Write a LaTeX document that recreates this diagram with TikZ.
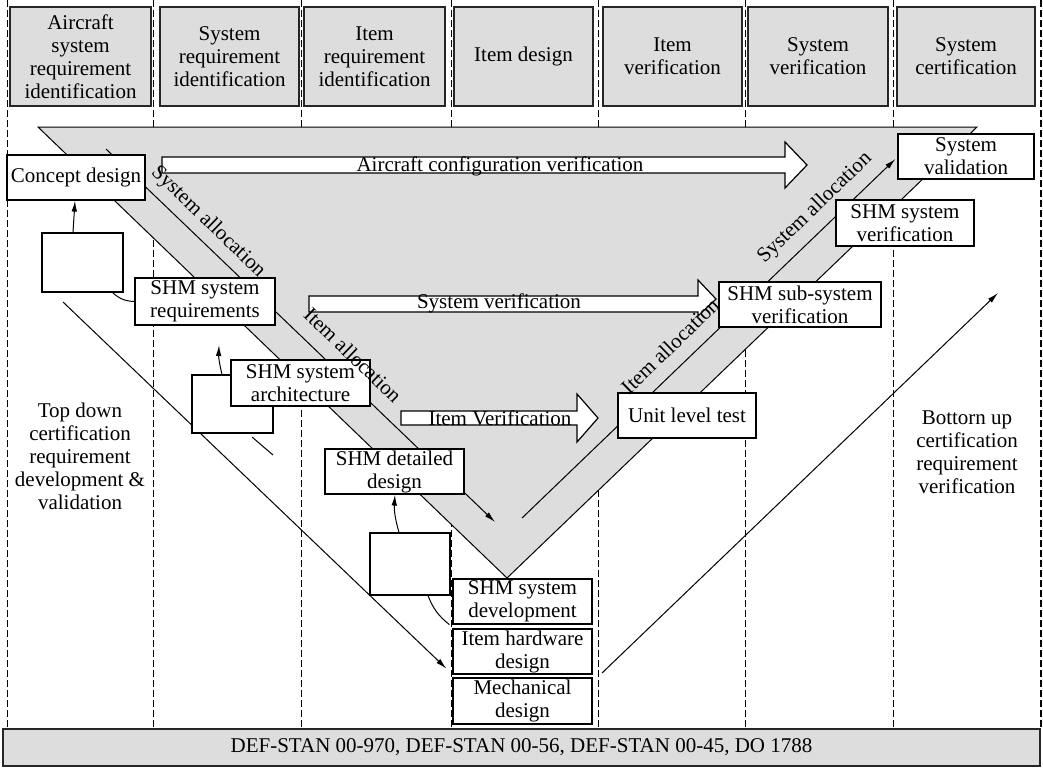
\documentclass[tikz,border=0pt]{standalone}
\usepackage{fontspec}
\setmainfont{Liberation Serif}
\usetikzlibrary{arrows.meta}
\definecolor{panel}{gray}{0.865}
\pgfdeclarelayer{bg}
\pgfdeclarelayer{wires}
\pgfsetlayers{bg,wires,main}

\begin{document}
\begin{tikzpicture}[x=1pt,y=-1pt,
  txt/.style={font=\fontsize{21}{23}\selectfont, align=center, inner sep=0pt},
  box/.style={txt, draw=black, fill=white, line width=1.2pt},
  hdr/.style={txt, draw=black!85, fill=panel, line width=1.8pt, minimum height=99pt},
  colline/.style={line width=1pt, dash pattern=on 7pt off 3pt},
  link/.style={line width=1pt},
  arr/.style={link, -{Latex[length=11pt,width=5.5pt]}},
  block/.style={draw=black, fill=white, line width=1.2pt, line join=miter},
]
\useasboundingbox (0,0) rectangle (1043,769);

% ---------- column separators and the V band ----------
\begin{pgfonlayer}{bg}
  \foreach \cx in {7,153,301,451,598,745,893}
    \draw[colline] (\cx,0) -- (\cx,728);
  \draw[colline, line width=1.6pt] (1041,0) -- (1041,728);
  \coordinate (vl) at (38,127);
  \coordinate (vr) at (977,127);
  \coordinate (vb) at (507,578);
  \filldraw[fill=panel, draw=black, line width=1pt] (vl) -- (vr) -- (vb) -- cycle;
\end{pgfonlayer}

% ---------- phase headers ----------
\node[hdr, minimum width=141pt] (h1) at (80.5,56.5) {Aircraft\\system\\requirement\\identification};
\node[hdr, minimum width=139pt] (h2) at (229.5,56.5) {System\\requirement\\identification};
\node[hdr, minimum width=141pt] (h3) at (374.5,56.5) {Item\\requirement\\identification};
\node[hdr, minimum width=139pt] (h4) at (523.5,56.5) {Item design};
\node[hdr, minimum width=139pt] (h5) at (672.5,56.5) {Item\\verification};
\node[hdr, minimum width=140pt] (h6) at (818,56.5) {System\\verification};
\node[hdr, minimum width=138pt] (h7) at (966,56.5) {System\\certification};

% ---------- standards bar ----------
\node[hdr, minimum width=1037pt, minimum height=37pt] (std) at (521.5,747.5)
  {DEF-STAN 00-970, DEF-STAN 00-56, DEF-STAN 00-45, DO 1788};

% ---------- verification block arrows ----------
\draw[block] (162,157) -- (785,157) -- (785,142) -- (807,165) -- (785,188) -- (785,173) -- (162,173) -- cycle;
\node[txt, anchor=base] (acv) at (500,171) {Aircraft configuration verification};

\draw[block] (309,296) -- (698,296) -- (698,280) -- (716,299) -- (698,316) -- (698,312) -- (309,312) -- cycle;
\node[txt, anchor=base] (sv) at (499,308) {System verification};

\draw[block] (401,411) -- (577,411) -- (577,394) -- (598,418) -- (577,442) -- (577,425) -- (401,425) -- cycle;
\node[txt, anchor=base] (iv) at (500,425) {Item Verification};

% ---------- left leg ----------
\node[box, minimum width=138pt, minimum height=45pt] (concept) at (76,177.5) {Concept design};
\node[box, minimum width=81pt, minimum height=59pt] (e1) at (82.5,262.5) {};
\node[box, minimum width=140pt, minimum height=47pt] (req) at (205,301.5) {SHM system\\requirements};
\node[box, minimum width=81pt, minimum height=58pt] (e2) at (232.5,404) {};
\node[box, minimum width=139pt, minimum height=46pt] (arch) at (300.5,383) {SHM system\\architecture};
\node[box, minimum width=139pt, minimum height=45pt] (detail) at (394.5,471.5) {SHM detailed\\design};
\node[box, minimum width=80pt, minimum height=62pt] (e3) at (410,564) {};

% ---------- bottom stack ----------
\node[box, minimum width=139pt, minimum height=45pt] (dev) at (522.5,601.5) {SHM system\\development};
\node[box, minimum width=139pt, minimum height=45pt] (hw) at (522.5,651.5) {Item hardware\\design};
\node[box, minimum width=139pt, minimum height=46pt] (mech) at (522.5,701) {Mechanical\\design};

% ---------- right leg ----------
\node[box, minimum width=138pt, minimum height=45pt] (unit) at (687,415.5) {Unit level test};
\node[box, minimum width=162pt, minimum height=45pt] (subver) at (800,304.5) {SHM sub-system\\verification};
\node[box, minimum width=138pt, minimum height=46pt] (sysver) at (905,223) {SHM system\\verification};
\node[box, minimum width=136pt, minimum height=45pt] (val) at (966,156.5) {System\\validation};

% ---------- side captions ----------
\node[txt] (topdown) at (80,456) {Top down\\certification\\requirement\\development \&\\validation};
\node[txt] (bottomup) at (967,452.5) {Bottorn up\\certification\\requirement\\verification};

% ---------- allocation labels ----------
\node[txt, rotate=-44] (salloc) at (208,222) {System allocation};
\node[txt, rotate=-44] (ialloc) at (353,355) {Item allocation};
\node[txt, rotate=44] (iallocr) at (670,346) {Item allocation};
\node[txt, rotate=44] (sallocr) at (815,208) {System allocation};

% ---------- connectors ----------
\begin{pgfonlayer}{wires}
  \coordinate (l2s) at (106,149);
  \coordinate (l2e) at (495,522);
  \draw[arr] (l2s) -- (l2e);
  \coordinate (r2s) at (522,518);
  \draw[arr] (r2s) -- ([shift={(-2pt,-2.5pt)}]val.west);
  \coordinate (tds) at (63,302);
  \draw[arr] (tds) -- ([shift={(-6pt,6pt)}]hw.south west);
  \coordinate (bus) at (602,673);
  \coordinate (bue) at (998,293);
  \draw[arr] (bus) -- (bue);
  \coordinate (stubA) at (252,437);
  \coordinate (stubB) at (273,455);
  \draw[link] (stubA) -- (stubB);
\end{pgfonlayer}

\draw[arr] ([xshift=-9.5pt]e1.north) -- ([xshift=-1pt]concept.south);
\draw[link] ([xshift=-11pt]e1.south east) to[bend right=20] (req.west);
\coordinate (archtip) at (219,345);
\draw[arr] ([xshift=-10.5pt]e2.north) to[bend left=8] (archtip);
\draw[arr] ([xshift=-11pt]e3.north) to[bend left=10] ([xshift=0.5pt]detail.south);
\draw[link] ([xshift=18pt]e3.south) to[bend right=15] ([xshift=-3pt]dev.south west);
\end{tikzpicture}
\end{document}
